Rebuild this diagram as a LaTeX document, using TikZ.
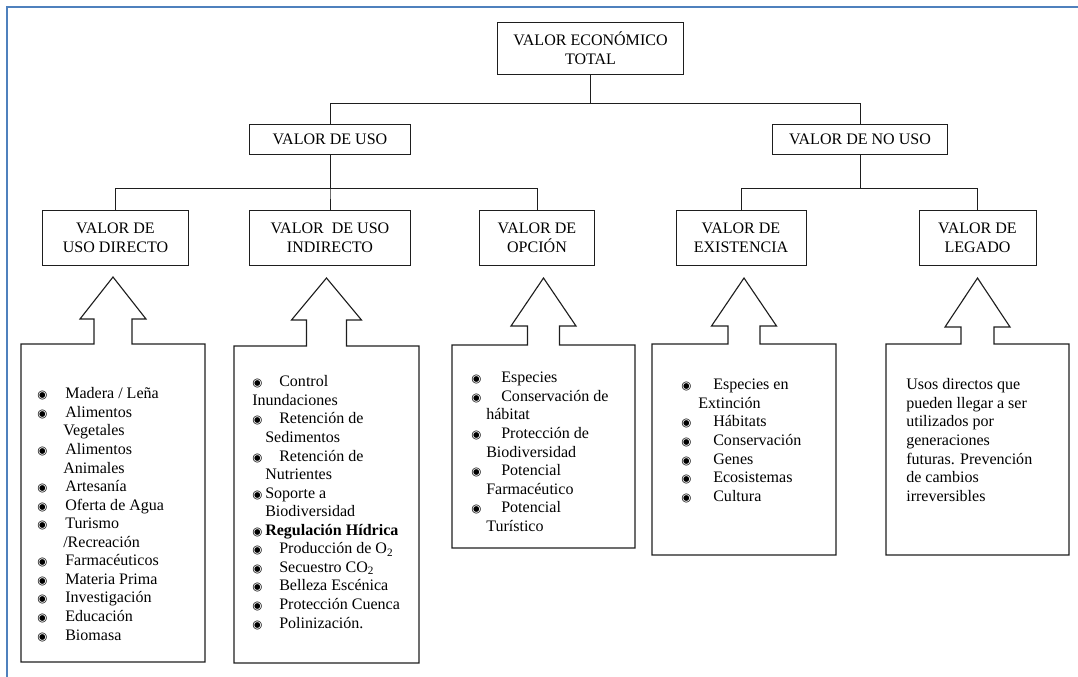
\documentclass[tikz,border=0pt]{standalone}
\usepackage{fontspec}
\setmainfont{Liberation Serif}
\newfontfamily\simbolos{DejaVu Sans}
\usetikzlibrary{positioning}
\definecolor{azulmarco}{RGB}{79,129,189}
\definecolor{trazo}{RGB}{30,30,30}
\newcommand{\texto}{\fontsize{11.4}{13.2}\selectfont}
\newcommand{\vineta}{{\simbolos\fontsize{8.2}{8.2}\selectfont ◉}}
\newcommand{\vin}[1]{\makebox[#1][l]{\vineta}}
\tikzset{
  caja/.style={rectangle,draw=trazo,line width=0.7pt,align=center,inner sep=0pt,
    font=\texto,minimum height=1.375cm},
  contorno/.style={draw=trazo,line width=0.8pt,line join=miter},
  lista/.style={anchor=north west,inner sep=0pt,align=left,font=\texto},
  rama/.style={trazo,line width=0.7pt},
  marco/.style={draw=azulmarco,line width=1.6pt},
}

\begin{document}
\begin{tikzpicture}[x=0.025cm,y=-0.025cm]
  \useasboundingbox (0,0) rectangle (1078,677);
  \draw[marco] (7,677) -- (7,7) -- (1078,7);
  % arbol de valores
  \node[caja,minimum width=4.625cm,minimum height=1.3cm] (vet) at (590.5,48) {VALOR ECONÓMICO\\TOTAL};
  \node[caja,minimum width=4cm,minimum height=0.75cm] (vu) at (330,139) {VALOR DE USO};
  \node[caja,minimum width=4.35cm,minimum height=0.73cm] (vnu) at (860,139.5) {VALOR DE NO USO};
  \node[caja,minimum width=3.625cm] (vud) at (115.5,237.5) {VALOR DE\\USO DIRECTO};
  \node[caja,minimum width=4cm] (vui) at (330,237.5) {VALOR~ DE USO\\INDIRECTO};
  \node[caja,minimum width=2.85cm] (vop) at (537,237.5) {VALOR DE\\OPCIÓN};
  \node[caja,minimum width=3.25cm] (vex) at (741,237.5) {VALOR DE\\EXISTENCIA};
  \node[caja,minimum width=2.925cm] (vle) at (977.5,237.5) {VALOR DE\\LEGADO};
  \foreach \h in {vu,vnu}
    \draw[rama] (vet.south) -- ++(0,29) -| (\h.north);
  \foreach \h in {vud,vui,vop}
    \draw[rama] (vu.south) -- ++(0,34) -| (\h.north);
  \foreach \h in {vex,vle}
    \draw[rama] (vnu.south) -- ++(0,33.5) -| (\h.north);
  % cajas con flecha
  \foreach \xa/\xb/\ya/\yb/\yp/\yh/\hw/\sw in {21/205/344/662/277/319/33/19,
      234/419/346/663/278/320/35/20, 452/635/345/548/278/326/32.5/16,
      652/836/344/555/278/326/32.5/16, 886/1069/344/555/278/327/32.5/16.5}{
    \pgfmathsetmacro{\xc}{(\xa+\xb)/2}
    \draw[contorno] (\xa,\yb) -- (\xa,\ya) -- (\xc-\sw,\ya) -- (\xc-\sw,\yh) -- (\xc-\hw,\yh)
      -- (\xc,\yp) -- (\xc+\hw,\yh) -- (\xc+\sw,\yh) -- (\xc+\sw,\ya) -- (\xb,\ya) -- (\xb,\yb) -- cycle;
  }
  \node[lista] (lista1) at (37,385.5) {\strut\vin{0.7cm}Madera / Leña\\
    \vin{0.7cm}Alimentos\\ \hspace*{0.65cm}Vegetales\\
    \vin{0.7cm}Alimentos\\ \hspace*{0.65cm}Animales\\
    \vin{0.7cm}Artesanía\\ \vin{0.7cm}Oferta de Agua\\
    \vin{0.7cm}Turismo\\ \hspace*{0.65cm}/Recreación\\
    \vin{0.7cm}Farmacéuticos\\ \vin{0.7cm}Materia Prima\\
    \vin{0.7cm}Investigación\\ \vin{0.7cm}Educación\\ \vin{0.7cm}Biomasa};
  \node[lista] (lista2) at (252,373.5) {\strut\vin{0.675cm}Control\\ Inundaciones\\
    \vin{0.675cm}Retención de\\ \hspace*{0.325cm}Sedimentos\\
    \vin{0.675cm}Retención de\\ \hspace*{0.325cm}Nutrientes\\
    \vin{0.325cm}Soporte a\\ \hspace*{0.325cm}Biodiversidad\\
    \vin{0.325cm}\textbf{Regulación Hídrica}\\
    \vin{0.675cm}Producción de O\textsubscript{2}\\ \vin{0.675cm}Secuestro CO\textsubscript{2}\\
    \vin{0.675cm}Belleza Escénica\\ \vin{0.675cm}Protección Cuenca\\
    \vin{0.675cm}Polinización.};
  \node[lista] (lista3) at (471,369.5) {\strut\vin{0.75cm}Especies\\
    \vin{0.75cm}Conservación de\\ \hspace*{0.375cm}hábitat\\
    \vin{0.75cm}Protección de\\ \hspace*{0.375cm}Biodiversidad\\
    \vin{0.75cm}Potencial\\ \hspace*{0.375cm}Farmacéutico\\
    \vin{0.75cm}Potencial\\ \hspace*{0.375cm}Turístico};
  \node[lista] (lista4) at (681,376.5) {\strut\vin{0.8cm}Especies en\\ \hspace*{0.425cm}Extinción\\
    \vin{0.8cm}Hábitats\\ \vin{0.8cm}Conservación\\ \vin{0.8cm}Genes\\
    \vin{0.8cm}Ecosistemas\\ \vin{0.8cm}Cultura};
  \node[lista] (lista5) at (906,376.5) {\strut Usos directos que\\ pueden llegar a ser\\
    utilizados por\\ generaciones\\ futuras. Prevención\\ de cambios\\ irreversibles};
\end{tikzpicture}
\end{document}
